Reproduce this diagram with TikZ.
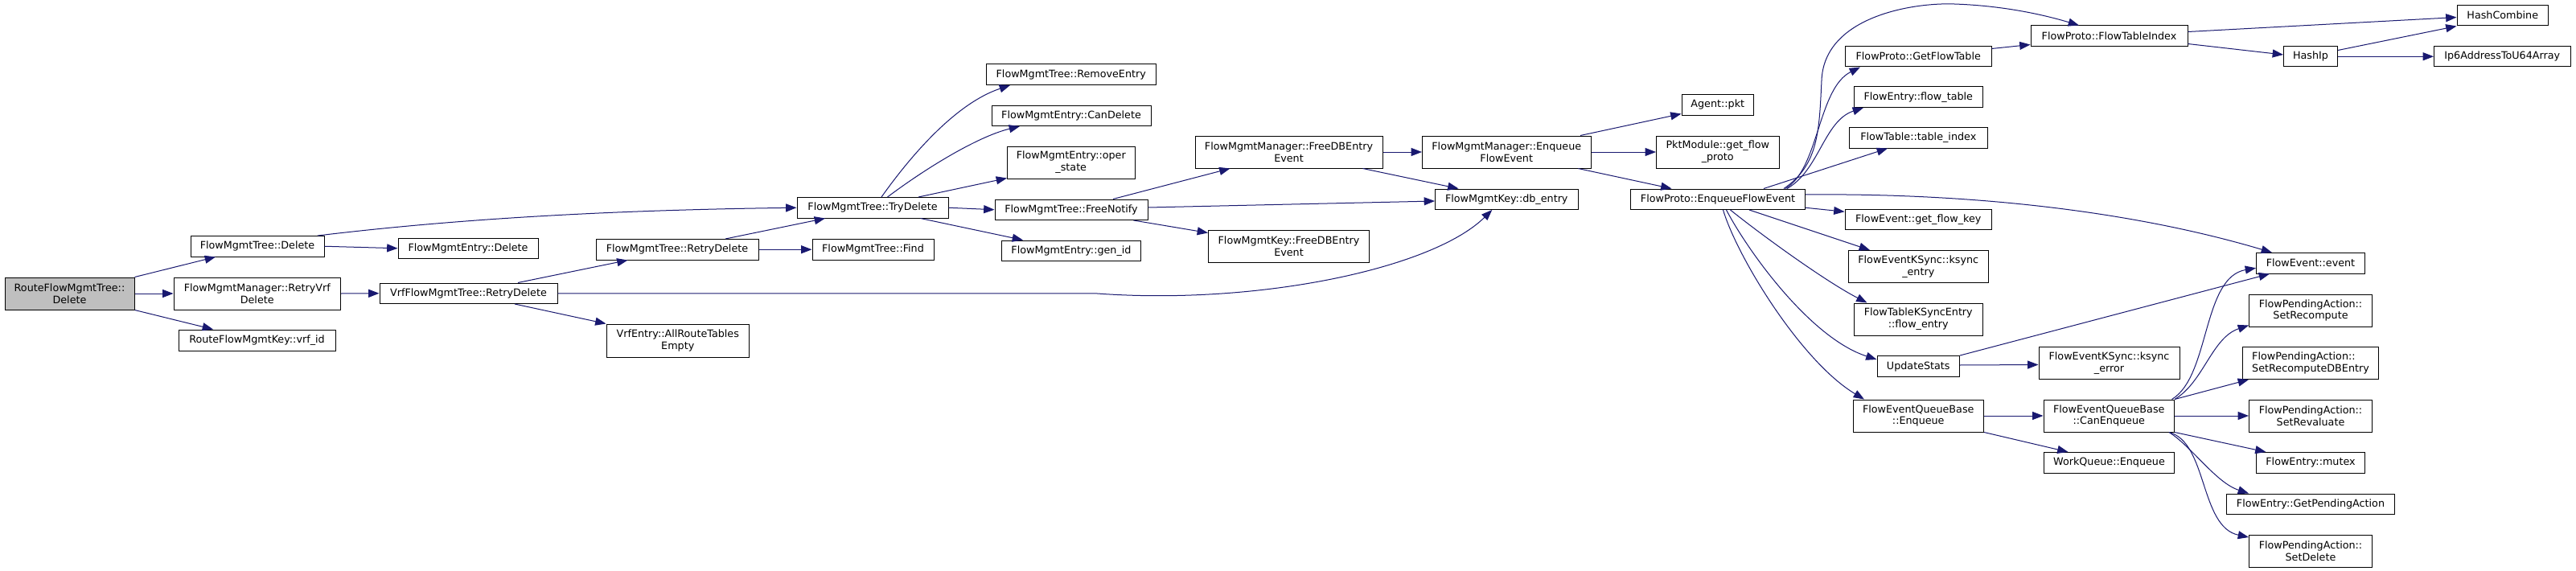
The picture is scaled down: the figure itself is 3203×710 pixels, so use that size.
\documentclass[tikz,border=0pt]{standalone}
\usepackage{fontspec}
\setmainfont{DejaVu Sans}
\usetikzlibrary{arrows.meta,calc}
\definecolor{edgec}{HTML}{191970}
\definecolor{rootfill}{HTML}{BFBFBF}
\newcommand\bx[7][]{\node[box,#1,minimum width={(#5-#3)*0.75},minimum height={(#6-#4)*0.75}] (#2) at ({(#3+#5)/2},{(#4+#6)/2}) {#7};}
\begin{document}
\begin{tikzpicture}[x=0.75pt,y=-0.75pt,
 box/.style={draw=black,line width=0.75pt,fill=white,inner sep=0pt,align=center,font=\fontsize{9.55}{11.2}\selectfont},
 arr/.style={draw=edgec,line width=0.75pt,-{Triangle[length=10pt,width=7.5pt]}}]
\fill[white] (0,0) rectangle (3203,710);
\useasboundingbox (0,0) rectangle (3203,710);
% nodes
\bx[fill=rootfill]{root}{6}{345}{167}{385}{RouteFlowMgmtTree::\\Delete}
\bx{fmtDelete}{237}{293.5}{403}{319}{FlowMgmtTree::Delete}
\bx{retryVrf}{216}{345}{423.5}{385}{FlowMgmtManager::RetryVrf\\Delete}
\bx{vrfId}{222}{410}{417}{436.5}{RouteFlowMgmtKey::vrf\_id}
\bx{feDelete}{495}{296}{669}{321.5}{FlowMgmtEntry::Delete}
\bx{vrfRetry}{472}{352}{693}{377.5}{VrfFlowMgmtTree::RetryDelete}
\bx{fmtRetry}{741}{297.5}{943}{323}{FlowMgmtTree::RetryDelete}
\bx{allRoute}{754}{403}{931.5}{444}{VrfEntry::AllRouteTables\\Empty}
\bx{find}{1010}{297.5}{1161}{323}{FlowMgmtTree::Find}
\bx{tryDel}{991}{245.5}{1179}{271}{FlowMgmtTree::TryDelete}
\bx{removeE}{1226.5}{80}{1437}{105.5}{FlowMgmtTree::RemoveEntry}
\bx{canDel}{1233}{131}{1431}{156.5}{FlowMgmtEntry::CanDelete}
\bx{operSt}{1252.5}{182}{1411}{222}{FlowMgmtEntry::oper\\\_state}
\bx{freeNot}{1237}{248}{1427}{273.5}{FlowMgmtTree::FreeNotify}
\bx{genId}{1245.5}{299}{1418.5}{324.5}{FlowMgmtEntry::gen\_id}
\bx{mgrFree}{1486}{169}{1719}{209}{FlowMgmtManager::FreeDBEntry\\Event}
\bx{keyFree}{1502.5}{286}{1702.5}{326}{FlowMgmtKey::FreeDBEntry\\Event}
\bx{mgrEnq}{1768.5}{169}{1978}{209}{FlowMgmtManager::Enqueue\\FlowEvent}
\bx{dbEntry}{1784.5}{235}{1962}{260.5}{FlowMgmtKey::db\_entry}
\bx{agentPkt}{2091}{117.5}{2180.5}{143}{Agent::pkt}
\bx{pktMod}{2059.5}{169}{2212}{209}{PktModule::get\_flow\\\_proto}
\bx{enqFE}{2027.5}{235}{2244.5}{260.5}{FlowProto::EnqueueFlowEvent}
\bx{getFT}{2294.5}{57.5}{2476}{83}{FlowProto::GetFlowTable}
\bx{flowTbl}{2305}{108}{2465.5}{133.5}{FlowEntry::flow\_table}
\bx{tblIdx}{2299.5}{158.5}{2471}{184}{FlowTable::table\_index}
\bx{getKey}{2294}{260}{2476.5}{285.5}{FlowEvent::get\_flow\_key}
\bx{ksEntry}{2298}{311.5}{2472.5}{351.5}{FlowEventKSync::ksync\\\_entry}
\bx{ftksEntry}{2305}{377}{2465.5}{417}{FlowTableKSyncEntry\\::flow\_entry}
\bx{updStats}{2334}{442.5}{2436.5}{468.5}{UpdateStats}
\bx{feqEnq}{2304}{497}{2466.5}{537}{FlowEventQueueBase\\::Enqueue}
\bx{ftIdx}{2525}{32}{2720}{57.5}{FlowProto::FlowTableIndex}
\bx{hashComb}{3055}{6.5}{3168.5}{32}{HashCombine}
\bx{hashIp}{2839.5}{57.5}{2906.5}{83}{HashIp}
\bx{ip6}{3026.5}{57.5}{3196}{83}{Ip6AddressToU64Array}
\bx{fevEvent}{2805.5}{314.5}{2940.5}{340}{FlowEvent::event}
\bx{setRecomp}{2796.5}{366}{2949.5}{406}{FlowPendingAction::\\SetRecompute}
\bx[align=left]{setRecDB}{2788.5}{431.5}{2957.5}{471.5}{FlowPendingAction::\\SetRecomputeDBEntry}
\bx{setReval}{2796.5}{497}{2949.5}{537}{FlowPendingAction::\\SetRevaluate}
\bx{mutex}{2805.5}{562.5}{2940.5}{588}{FlowEntry::mutex}
\bx{getPA}{2768.5}{614}{2977.5}{639.5}{FlowEntry::GetPendingAction}
\bx{setDel}{2796.5}{665}{2949.5}{705}{FlowPendingAction::\\SetDelete}
\bx{ksErr}{2535}{431.5}{2710}{471.5}{FlowEventKSync::ksync\\\_error}
\bx{canEnq}{2541}{497}{2703.5}{537}{FlowEventQueueBase\\::CanEnqueue}
\bx{wqEnq}{2541.5}{562.5}{2703.5}{588}{WorkQueue::Enqueue}
% edges
\draw[arr] (root.north east) -- ($(fmtDelete.south)+(-52,0)$);
\draw[arr] (root.east) -- (retryVrf.west);
\draw[arr] (root.south east) -- ($(vrfId.north)+(-54.5,0)$);
\draw[arr] (fmtDelete.east) -- (feDelete.west);
\draw[arr] ($(fmtDelete.north)+(75,0)$) .. controls (520,278) and (700,262) .. (tryDel.west);
\draw[arr] (retryVrf.east) -- (vrfRetry.west);
\draw[arr] ($(vrfRetry.north)+(61.5,0)$) -- ($(fmtRetry.south)+(-61.5,0)$);
\draw[arr] ($(vrfRetry.south)+(57.5,0)$) -- (allRoute.north west);
\draw[arr] (vrfRetry.east) -- (1361,364.75) .. controls (1560,380) and (1780,335) .. ($(dbEntry.south)+(-18,0)$);
\draw[arr] ($(fmtRetry.north)+(60,0)$) -- ($(tryDel.south)+(-59,0)$);
\draw[arr] (fmtRetry.east) -- (find.west);
\draw[arr] ($(tryDel.north)+(11,0)$) .. controls (1135,190) and (1190,128) .. ($(removeE.south)+(-75.75,0)$);
\draw[arr] ($(tryDel.north)+(18.5,0)$) .. controls (1150,210) and (1215,170) .. ($(canDel.south)+(-64,0)$);
\draw[arr] ($(tryDel.north)+(57,0)$) -- ($(operSt.south west)+(0,-1)$);
\draw[arr] (tryDel.east) -- (freeNot.west);
\draw[arr] ($(tryDel.south)+(59.5,0)$) -- ($(genId.north)+(-60,0)$);
\draw[arr] ($(freeNot.north)+(52,0)$) -- ($(mgrFree.south)+(-73,0)$);
\draw[arr] ($(freeNot.east)+(0,-2.75)$) -- ($(dbEntry.west)+(0,2.25)$);
\draw[arr] ($(freeNot.south)+(77.5,0)$) -- ($(keyFree.north west)+(0,4)$);
\draw[arr] (mgrFree.east) -- (mgrEnq.west);
\draw[arr] ($(mgrFree.south)+(92,0)$) -- ($(dbEntry.north)+(-59.75,0)$);
\draw[arr] ($(mgrEnq.north)+(91.75,0)$) -- ($(agentPkt.south west)+(0,-2)$);
\draw[arr] (mgrEnq.east) -- (pktMod.west);
\draw[arr] ($(mgrEnq.south)+(89,0)$) -- ($(enqFE.north)+(-57.5,0)$);
\draw[arr] ($(enqFE.north)+(84,0)$) .. controls (2262,210) and (2260,110) .. ($(getFT.south)+(-72.25,0)$);
\draw[arr] ($(enqFE.north)+(86,0)$) .. controls (2262,212) and (2268,150) .. ($(flowTbl.south)+(-68.25,0)$);
\draw[arr] ($(enqFE.north)+(57,0)$) -- ($(tblIdx.south)+(-38.25,0)$);
\draw[arr] ($(enqFE.north)+(82,0)$) .. controls (2262,205) and (2262,160) .. (2265,100) .. controls (2268,20) and (2380,3) .. (2430,5) .. controls (2490,7) and (2540,18) .. ($(ftIdx.north)+(-37.5,0)$);
\draw[arr] ($(enqFE.east)+(0,-5.75)$) .. controls (2450,240) and (2650,262) .. ($(fevEvent.north)+(-48,0)$);
\draw[arr] ($(enqFE.east)+(0,10.5)$) -- ($(getKey.west)+(0,-9.5)$);
\draw[arr] ($(enqFE.south)+(39,0)$) -- ($(ksEntry.north)+(-60.25,0)$);
\draw[arr] ($(enqFE.south)+(15.5,0)$) .. controls (2190,292) and (2270,350) .. ($(ftksEntry.north)+(-63.75,0)$);
\draw[arr] ($(enqFE.south)+(10.5,0)$) .. controls (2172,310) and (2250,420) .. ($(updStats.west)+(0,-8.5)$);
\draw[arr] ($(enqFE.south)+(6.5,0)$) .. controls (2160,320) and (2240,450) .. ($(feqEnq.north)+(-67.25,0)$);
\draw[arr] ($(getFT.east)+(0,-9.75)$) -- ($(ftIdx.west)+(0,10.75)$);
\draw[arr] ($(ftIdx.east)+(0,-5.25)$) -- ($(hashComb.west)+(0,2.25)$);
\draw[arr] ($(ftIdx.east)+(0,9.75)$) -- ($(hashIp.west)+(0,-2.25)$);
\draw[arr] ($(hashIp.east)+(0,-7.75)$) -- (hashComb.south west);
\draw[arr] (hashIp.east) -- (ip6.west);
\draw[arr] (updStats.north east) -- ($(fevEvent.south)+(-51,0)$);
\draw[arr] ($(updStats.east)+(0,-1.5)$) -- ($(ksErr.west)+(0,2)$);
\draw[arr] (feqEnq.east) -- (canEnq.west);
\draw[arr] (feqEnq.south east) -- ($(wqEnq.north)+(-51,0)$);
\draw[arr] ($(canEnq.north east)+(-3.5,0)$) .. controls (2748,468) and (2738,345) .. ($(fevEvent.west)+(0,6)$);
\draw[arr] (canEnq.north east) .. controls (2740,475) and (2750,420) .. ($(setRecomp.south west)+(0,-2)$);
\draw[arr] (canEnq.north east) -- ($(setRecDB.south west)+(8,0)$);
\draw[arr] (canEnq.east) -- (setReval.west);
\draw[arr] (canEnq.south east) -- ($(mutex.north west)+(12.5,0)$);
\draw[arr] ($(canEnq.south east)+(-7,0)$) .. controls (2725,555) and (2755,600) .. ($(getPA.north west)+(28,0)$);
\draw[arr] ($(canEnq.south east)+(-7,0)$) .. controls (2745,550) and (2735,655) .. ($(setDel.west)+(0,-17)$);
\end{tikzpicture}
\end{document}
